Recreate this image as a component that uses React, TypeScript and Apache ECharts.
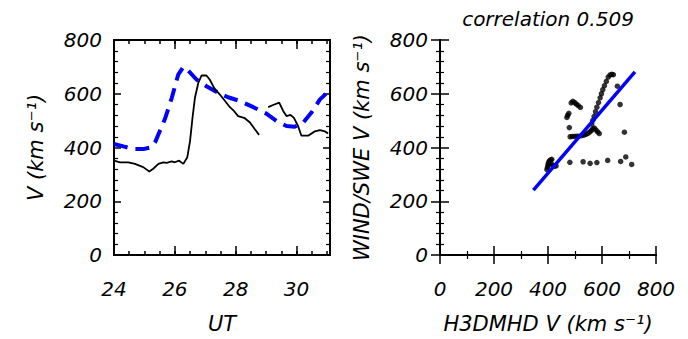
import React, { useEffect, useRef } from "react";
import * as echarts from "echarts";

// ---- Left panel: time series (UT vs speed) ----
const obsTimeA = [24.0, 24.2, 24.47, 24.69, 24.96, 25.16, 25.29, 25.46, 25.62, 25.73, 25.9, 26.0, 26.14, 26.28, 26.41, 26.5, 26.58, 26.66, 26.77, 26.88, 27.04, 27.15, 27.3, 27.48, 27.65, 27.81, 27.95, 28.08, 28.3, 28.47, 28.63, 28.77];
const obsSpeedA = [351, 345, 345, 339, 327, 311, 321, 339, 345, 343, 348, 345, 351, 339, 364, 425, 510, 585, 640, 668, 668, 652, 620, 597, 573, 550, 535, 517, 509, 493, 468, 447];
const obsTimeB = [29.07, 29.23, 29.43, 29.56, 29.67, 29.8, 29.91, 30.05, 30.16, 30.38, 30.6, 30.77, 30.93, 31.04];
const obsSpeedB = [550, 558, 567, 536, 517, 521, 511, 480, 444, 444, 460, 465, 460, 452];
const modelTime = [24.0, 24.31, 24.63, 24.96, 25.24, 25.35, 25.51, 25.67, 25.9, 26.11, 26.28, 26.44, 26.71, 27.04, 27.48, 27.75, 28.14, 28.58, 29.01, 29.34, 29.67, 29.94, 30.22, 30.49, 30.77, 30.97];
const modelSpeed = [413, 404, 395, 394, 401, 419, 462, 505, 585, 671, 700, 686, 653, 628, 600, 587, 573, 550, 526, 499, 480, 477, 493, 530, 579, 600];

// ---- Right panel: scatter (model vs observed) ----
const scatterModel = [396, 398, 400, 401, 403, 406, 410, 414, 412, 418, 424, 430,
  481, 530, 556, 581, 621, 669, 688, 710,
  683, 667, 657,
  623, 630, 636, 642, 616, 609, 603, 598, 593, 587, 581, 576, 571, 566, 562,
  470, 473, 477, 486, 492, 499, 505, 512, 520,
  479,
  482, 490, 498, 506, 515, 524, 533, 541, 548, 555, 561, 566, 572, 578, 584, 590];
const scatterObs = [318, 326, 333, 340, 346, 351, 354, 356, 340, 333, 330, 332,
  345, 347, 341, 344, 352, 348, 365, 337,
  457, 560, 628,
  662, 670, 672, 671, 646, 630, 615, 600, 585, 567, 550, 533, 516, 501, 488,
  512, 520, 527, 566, 572, 567, 561, 556, 549,
  474,
  440, 441, 441, 442, 442, 444, 446, 449, 453, 458, 464, 470, 472, 465, 458, 452];
const fitModel = [346, 722];
const fitObs = [241, 681];

const timeLabels = [24, 26, 28, 30];
const speedLabels = [0, 200, 400, 600, 800];
const titleText = "correlation 0.509";

const FONT = "DejaVu Sans";

export default function App() {
  const ref = useRef<HTMLDivElement>(null);
  useEffect(() => {
    const chart = echarts.init(ref.current!, null, { renderer: "svg" });
    const txt = { fontFamily: FONT, fontStyle: "italic" as const, fontSize: 20, color: "#000" };
    const axLine = { show: true, lineStyle: { color: "#000", width: 2 } };

    const mkX = (grid: number, pos: "top" | "bottom", min: number, max: number, interval: number, tickLen: number, opts: any = {}) => ({
      type: "value", gridIndex: grid, position: pos, min, max, interval,
      axisLine: axLine,
      axisTick: { show: true, inside: true, length: tickLen, lineStyle: { color: "#000", width: 1.5 } },
      axisLabel: { show: false },
      splitLine: { show: false },
      ...opts,
    });
    const mkY = (grid: number, pos: "left" | "right", tickLen: number, opts: any = {}) => ({
      type: "value", gridIndex: grid, position: pos, min: 0, max: 800, interval: 200,
      axisLine: axLine,
      axisTick: { show: true, inside: true, length: tickLen, lineStyle: { color: "#000", width: 1.5 } },
      minorTick: { show: true, splitNumber: 5, length: 4, lineStyle: { color: "#000", width: 1.2 } },
      axisLabel: { show: false },
      splitLine: { show: false },
      ...opts,
    });

    const yLabel = { show: true, ...txt, margin: 12, customValues: speedLabels, formatter: (v: number) => String(v) };
    const nameStyle = { fontFamily: FONT, fontStyle: "italic", fontSize: 21, color: "#000" };

    const option: any = {
      animation: false,
      grid: [
        { left: 114, top: 40, width: 216, height: 217 },
        { left: 440, top: 40, width: 216, height: 217 },
      ],
      xAxis: [
        mkX(0, "bottom", 24, 31.1, 2, 9, {
          axisLabel: { show: true, ...txt, margin: 24, showMaxLabel: false, formatter: (v: number) => (timeLabels.indexOf(v) >= 0 ? String(v) : "") },
          name: "UT", nameLocation: "middle", nameGap: 58, nameTextStyle: nameStyle,
        }),
        mkX(0, "bottom", 24, 31.1, 0.5, 4),
        mkX(0, "top", 24, 31.1, 2, 9),
        mkX(0, "top", 24, 31.1, 0.5, 4),
        mkX(1, "bottom", 0, 800, 200, 9, {
          minorTick: { show: true, splitNumber: 2, length: 4, lineStyle: { color: "#000", width: 1.2 } },
          axisLabel: { show: true, ...txt, margin: 24, formatter: (v: number) => String(v) },
          name: "H3DMHD V (km s\u207B\u00B9)", nameLocation: "middle", nameGap: 58, nameTextStyle: nameStyle,
        }),
        mkX(1, "top", 0, 800, 200, 9, {
          minorTick: { show: true, splitNumber: 2, length: 4, lineStyle: { color: "#000", width: 1.2 } },
        }),
      ],
      yAxis: [
        mkY(0, "left", 7, {
          axisLabel: yLabel,
          name: "V (km s\u207B\u00B9)", nameLocation: "middle", nameGap: 68, nameTextStyle: nameStyle,
        }),
        mkY(0, "right", 7),
        mkY(1, "left", 9, {
          axisLabel: yLabel,
          name: "WIND/SWE V (km s\u207B\u00B9)", nameLocation: "middle", nameGap: 68, nameTextStyle: nameStyle,
        }),
        mkY(1, "right", 9),
      ],
      graphic: [
        {
          type: "text", x: 548, y: 19,
          style: { text: titleText, font: `italic 20px '${FONT}'`, fill: "#000", align: "center", verticalAlign: "middle" },
        },
      ],
      series: [
        {
          type: "line", xAxisIndex: 0, yAxisIndex: 0, symbol: "none",
          data: modelTime.map((t, i) => [t, modelSpeed[i]]),
          lineStyle: { color: "#0000ff", width: 4, type: [14, 8] },
          z: 3,
        },
        {
          type: "line", xAxisIndex: 0, yAxisIndex: 0, symbol: "none",
          data: obsTimeA.map((t, i) => [t, obsSpeedA[i]]),
          lineStyle: { color: "#000", width: 1.8 },
          z: 4,
        },
        {
          type: "line", xAxisIndex: 0, yAxisIndex: 0, symbol: "none",
          data: obsTimeB.map((t, i) => [t, obsSpeedB[i]]),
          lineStyle: { color: "#000", width: 1.8 },
          z: 4,
        },
        {
          type: "scatter", xAxisIndex: 4, yAxisIndex: 2, symbol: "circle", symbolSize: 5.5,
          data: scatterModel.map((x, i) => [x, scatterObs[i]]),
          itemStyle: { color: "#000" },
        },
        {
          type: "line", xAxisIndex: 4, yAxisIndex: 2, symbol: "none",
          data: fitModel.map((x, i) => [x, fitObs[i]]),
          lineStyle: { color: "#0000ff", width: 3.5 },
          z: 5,
        },
      ],
    };
    chart.setOption(option);
    return () => chart.dispose();
  }, []);
  return (
    <div
      ref={ref}
      style={{ position: "fixed", left: 0, top: 0, width: 688, height: 339, background: "#fff" }}
    />
  );
}
